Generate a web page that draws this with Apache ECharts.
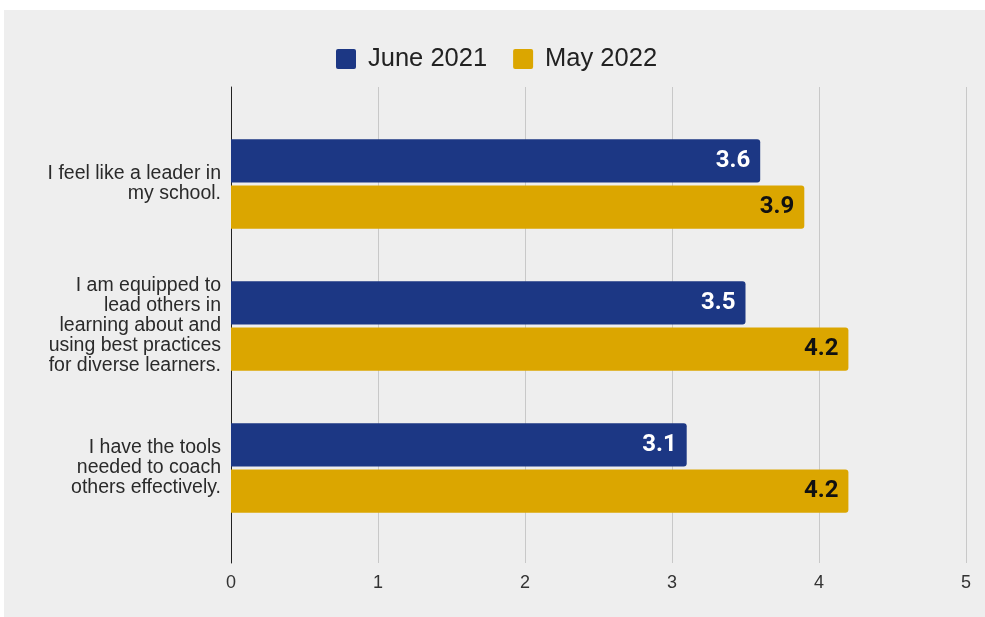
<!DOCTYPE html>
<html>
<head>
<meta charset="utf-8">
<script src="https://cdn.jsdelivr.net/npm/echarts@6/dist/echarts.min.js"></script>
<style>
  html, body { margin: 0; padding: 0; background: #ffffff; }
  #main { position: absolute; left: 4px; top: 10px; width: 981px; height: 607px; background: #eeeeee; }
</style>
</head>
<body>
<div id="main"></div>
<script>
    // 数据
    var categories = [
        'I feel like a leader in\nmy school.',
        'I am equipped to\nlead others in\nlearning about and\nusing best practices\nfor diverse learners.',
        'I have the tools\nneeded to coach\nothers effectively.'
    ];
    var june2021 = [3.6, 3.5, 3.1];
    var may2022 = [3.9, 4.2, 4.2];
    var xTicks = [0, 1, 2, 3, 4, 5];

    var myChart = echarts.init(document.getElementById('main'));

    var option = {
        backgroundColor: '#eeeeee',
        textStyle: { fontFamily: 'Roboto' },
        legend: {
            data: ['June 2021', 'May 2022'],
            left: 327,
            top: 31,
            itemWidth: 20,
            itemHeight: 20,
            itemGap: 26,
            icon: 'path://M2,0 H18 Q20,0 20,2 V18 Q20,20 18,20 H2 Q0,20 0,18 V2 Q0,0 2,0 Z',
            textStyle: { fontSize: 25.5, color: '#222', fontFamily: 'Liberation Sans', padding: [0, 0, 0, 7] }
        },
        grid: [
            { left: 227, right: 19, top: 77, bottom: 54 },
            { left: 227, right: 19, top: 103, bottom: 78 }
        ],
        xAxis: [{
            gridIndex: 0,
            type: 'value',
            min: xTicks[0],
            max: xTicks[xTicks.length - 1],
            interval: 1,
            axisLine: { show: false },
            axisTick: { show: false },
            splitLine: { lineStyle: { color: '#c8c8c8', width: 1 } },
            axisLabel: { fontSize: 18, color: '#333', margin: 11, fontFamily: 'Liberation Sans' }
        }, {
            gridIndex: 1,
            type: 'value',
            min: xTicks[0],
            max: xTicks[xTicks.length - 1],
            show: false
        }],
        yAxis: [{
            gridIndex: 0,
            type: 'value',
            min: 0,
            max: 1,
            axisLine: { show: true, lineStyle: { color: '#222', width: 1 } },
            axisTick: { show: false },
            axisLabel: { show: false },
            splitLine: { show: false }
        }, {
            gridIndex: 1,
            type: 'category',
            inverse: true,
            data: categories,
            axisLine: { show: false },
            axisTick: { show: false },
            axisLabel: {
                fontSize: 19.5,
                color: '#2a2a2a',
                margin: 10,
                lineHeight: 20,
                align: 'right',
                fontFamily: 'Liberation Sans'
            }
        }],
        series: [{
            name: 'June 2021',
            type: 'bar',
            xAxisIndex: 1,
            yAxisIndex: 1,
            data: june2021,
            barGap: '7%',
            barCategoryGap: '37%',
            itemStyle: { color: '#1c3784', borderRadius: [0, 3, 3, 0] },
            label: {
                show: true,
                position: 'insideRight',
                distance: 10,
                color: '#ffffff',
                fontSize: 24,
                fontWeight: 'bold',
                fontFamily: 'Roboto'
            }
        }, {
            name: 'May 2022',
            type: 'bar',
            xAxisIndex: 1,
            yAxisIndex: 1,
            data: may2022,
            itemStyle: { color: '#dba600', borderRadius: [0, 3, 3, 0] },
            label: {
                show: true,
                position: 'insideRight',
                distance: 10,
                color: '#111111',
                fontSize: 24,
                fontWeight: 'bold',
                fontFamily: 'Roboto'
            }
        }]
    };

    myChart.setOption(option);
</script>
</body>
</html>
